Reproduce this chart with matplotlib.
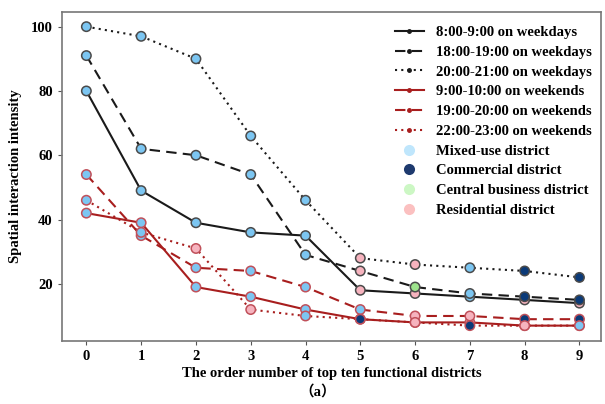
import matplotlib
matplotlib.use("Agg")
import matplotlib.pyplot as plt
from matplotlib.lines import Line2D

plt.rcParams['font.family'] = ['Liberation Serif', 'Noto Sans CJK SC', 'DejaVu Sans']
plt.rcParams['font.weight'] = 'bold'

x = list(range(10))

labels = ["8:00-9:00 on weekdays", "18:00-19:00 on weekdays", "20:00-21:00 on weekdays",
          "9:00-10:00 on weekends", "19:00-20:00 on weekends", "22:00-23:00 on weekends"]

wd_8_9 = [80, 49, 39, 36, 35, 18, 17, 16, 15, 14]
wd_18_19 = [91, 62, 60, 54, 29, 24, 19, 17, 16, 15]
wd_20_21 = [100, 97, 90, 66, 46, 28, 26, 25, 24, 22]
we_9_10 = [42, 39, 19, 16, 12, 9, 8, 8, 7, 7]
we_19_20 = [54, 35, 25, 24, 19, 12, 10, 10, 9, 9]
we_22_23 = [46, 36, 31, 12, 10, 9, 8, 7, 7, 7]

# district type of each point: M mixed-use, C commercial, B central business, R residential
t_8_9 = list("MMMMMRRMRR")
t_18_19 = list("MMMMMRBMCC")
t_20_21 = list("MMMMMRRMCC")
t_9_10 = list("MMMMMCRRRM")
t_19_20 = list("MMMMMMRRCC")
t_22_23 = list("MMRRMCRCRM")

district_names = ["Mixed-use district", "Commercial district", "Central business district", "Residential district"]
district_keys = ["M", "C", "B", "R"]

point_colors = {"M": "#7CC6F2", "C": "#0B3A78", "B": "#9DE38C", "R": "#F6B3BE"}
legend_colors = {"M": "#BFE6FC", "C": "#1E3A6E", "B": "#CCF7C4", "R": "#FBC0C0"}

BLACK = "#1a1a1a"
RED = "#A81E1E"

series = [
    (wd_8_9, t_8_9, BLACK, "-"),
    (wd_18_19, t_18_19, BLACK, (0, (5, 3))),
    (wd_20_21, t_20_21, BLACK, (0, (1, 2))),
    (we_9_10, t_9_10, RED, "-"),
    (we_19_20, t_19_20, RED, (0, (5, 3))),
    (we_22_23, t_22_23, RED, (0, (1, 2))),
]

fig = plt.figure(figsize=(6.05, 4.04), dpi=100)
ax = fig.add_axes([0.102, 0.157, 0.892, 0.814])

handles = []
for (vals, types, col, ls), lab in zip(series, labels):
    ax.plot(x, vals, color=col, linestyle=ls, linewidth=1.5, marker='.', markersize=4, zorder=2)
    edge = "#4a4a4a" if col == BLACK else "#C0505A"
    ax.scatter(x, vals, s=46, c=[point_colors[t] for t in types], edgecolors=edge,
               linewidths=1.1, zorder=3)
    handles.append(Line2D([0], [0], color=col, linestyle=ls, linewidth=1.5, marker='.', markersize=5, label=lab))

for k, nm in zip(district_keys, district_names):
    handles.append(Line2D([0], [0], linestyle='none', marker='o', markersize=8,
                          markerfacecolor=legend_colors[k], markeredgecolor='none', label=nm))

ax.set_xlim(-0.45, 9.4)
ax.set_ylim(2.35, 104.65)
ax.set_xticks(x)
ax.set_yticks([20, 40, 60, 80, 100])
ax.tick_params(labelsize=10.5, length=3, color="#555555")
for lab in ax.get_xticklabels() + ax.get_yticklabels():
    lab.set_fontweight('bold')
for sp in ax.spines.values():
    sp.set_color("#777777")
    sp.set_linewidth(1.2)

ax.set_xlabel("The order number of top ten functional districts", fontsize=10.5, fontweight='bold', labelpad=3)
ax.set_ylabel("Spatial interaction intensity", fontsize=10.5, fontweight='bold', labelpad=6)

leg = ax.legend(handles=handles, loc='upper right', bbox_to_anchor=(1.006, 0.997), frameon=False,
                labelspacing=0.45, handlelength=2.0, handletextpad=0.8,
                borderaxespad=0.5, prop={'weight': 'bold', 'size': 10.5})

fig.text(318 / 605, 1 - 392 / 404, "（a）", ha='center', va='center', fontsize=10.5, fontweight='bold')

fig.savefig("out.png", dpi=100)
